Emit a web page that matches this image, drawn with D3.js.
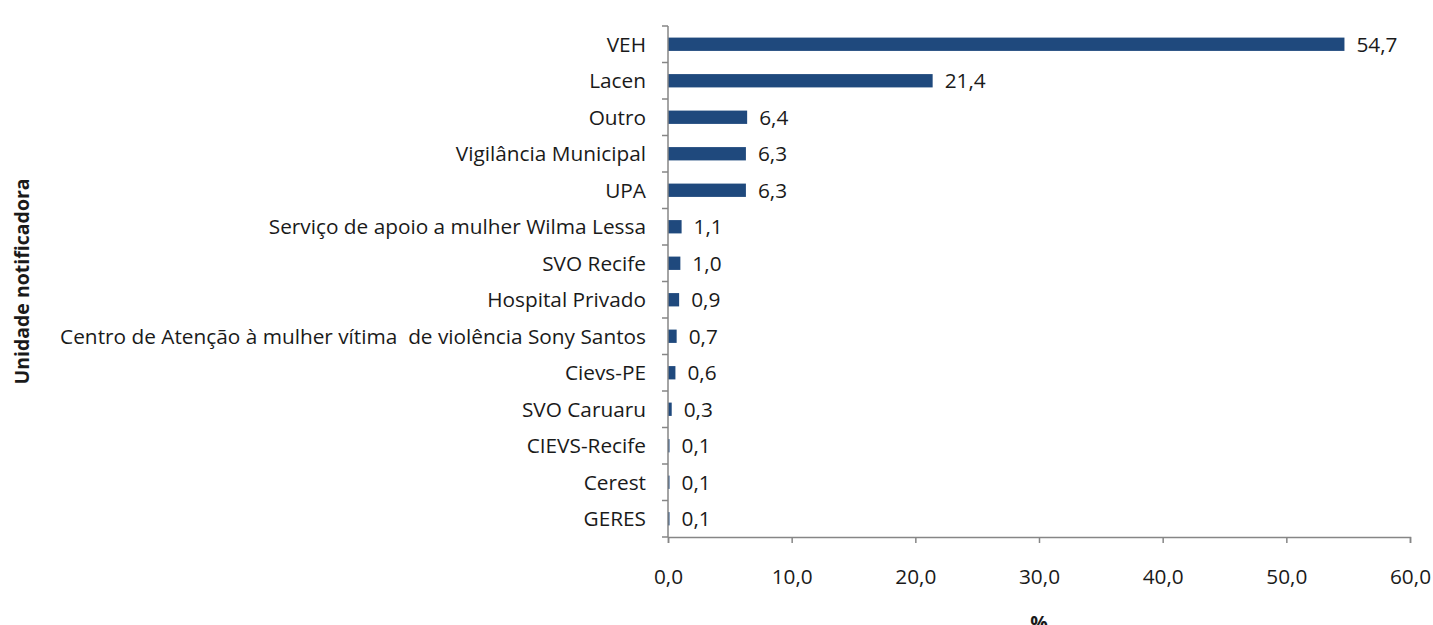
<!DOCTYPE html>
<html>
<head>
<meta charset="utf-8">
<script src="https://cdn.jsdelivr.net/npm/d3@7"></script>
<style>
  body { margin: 0; background: #fff; }
  text { font-family: "Open Sans", sans-serif; fill: #1a1a1a; }
</style>
</head>
<body>
<div id="chart"></div>
<script>
// unidade notificadora, share in %
const categories = ["VEH", "Lacen", "Outro", "Vigilância Municipal", "UPA",
  "Serviço de apoio a mulher Wilma Lessa", "SVO Recife", "Hospital Privado",
  "Centro de Atenção à mulher vítima  de violência Sony Santos", "Cievs-PE",
  "SVO Caruaru", "CIEVS-Recife", "Cerest", "GERES"];
const values = [54.7, 21.4, 6.4, 6.3, 6.3, 1.1, 1.0, 0.9, 0.7, 0.6, 0.3, 0.1, 0.1, 0.1];
const xTicks = [0, 10, 20, 30, 40, 50, 60];

const width = 1433, height = 625;
const margin = {top: 26, right: 23, bottom: 88, left: 668};
const fontSize = "20.8px";

const fmt = v => d3.format(".1f")(v).replace(".", ",");

const svg = d3.select("#chart")
  .append("svg")
  .attr("width", width)
  .attr("height", height);

const x = d3.scaleLinear()
  .domain([0, 60])
  .range([margin.left, width - margin.right]);

const y = d3.scaleBand()
  .domain(categories)
  .range([margin.top, height - margin.bottom])
  .paddingInner(0.635)
  .paddingOuter(0.3175);

const axisColor = "#868686";

// bars
svg.append("g")
  .selectAll("rect")
  .data(values)
  .join("rect")
  .attr("x", x(0))
  .attr("y", (d, i) => y(categories[i]))
  .attr("width", d => Math.max(1.5, x(d) - x(0)))
  .attr("height", y.bandwidth())
  .attr("fill", "#1f497d");

// value labels
svg.append("g")
  .selectAll("text")
  .data(values)
  .join("text")
  .attr("x", d => Math.max(x(0) + 1.5, x(d)) + 12)
  .attr("y", (d, i) => y(categories[i]) + y.bandwidth() / 2)
  .attr("dy", "0.35em")
  .style("font-size", fontSize)
  .text(d => fmt(d));

// y axis line + ticks between categories
const step = y.step();
const bandTop = margin.top, bandBottom = height - margin.bottom;
const yAxis = svg.append("g");
yAxis.append("line")
  .attr("x1", x(0)).attr("x2", x(0))
  .attr("y1", bandTop).attr("y2", bandBottom)
  .attr("stroke", axisColor).attr("stroke-width", 1.5);
yAxis.selectAll("line.tick")
  .data(d3.range(categories.length + 1))
  .join("line")
  .attr("class", "tick")
  .attr("x1", x(0) - 6).attr("x2", x(0))
  .attr("y1", i => bandTop + i * step)
  .attr("y2", i => bandTop + i * step)
  .attr("stroke", axisColor).attr("stroke-width", 1.5);

// category labels
yAxis.selectAll("text")
  .data(categories)
  .join("text")
  .attr("x", x(0) - 22)
  .attr("y", d => y(d) + y.bandwidth() / 2)
  .attr("dy", "0.35em")
  .attr("text-anchor", "end")
  .style("font-size", fontSize)
  .style("white-space", "pre")
  .text(d => d);

// x axis
const xAxis = svg.append("g")
  .attr("transform", `translate(0,${bandBottom})`)
  .call(d3.axisBottom(x).tickValues(xTicks).tickFormat(fmt).tickSize(6).tickPadding(26));
xAxis.select(".domain").attr("stroke", axisColor).attr("stroke-width", 1.5);
xAxis.selectAll(".tick line").attr("stroke", axisColor).attr("stroke-width", 1.5);
xAxis.selectAll(".tick text")
  .style("font-size", fontSize)
  .style("font-family", "Open Sans, sans-serif")
  .attr("fill", "#1a1a1a");

// axis titles
svg.append("text")
  .attr("transform", `translate(29,${(bandTop + bandBottom) / 2}) rotate(-90)`)
  .attr("text-anchor", "middle")
  .style("font-size", "19.5px")
  .style("font-weight", "bold")
  .text("Unidade notificadora");

svg.append("text")
  .attr("x", (x(0) + x(60)) / 2)
  .attr("y", height + 5)
  .attr("text-anchor", "middle")
  .style("font-size", "19.5px")
  .style("font-weight", "bold")
  .text("%");
</script>
</body>
</html>
